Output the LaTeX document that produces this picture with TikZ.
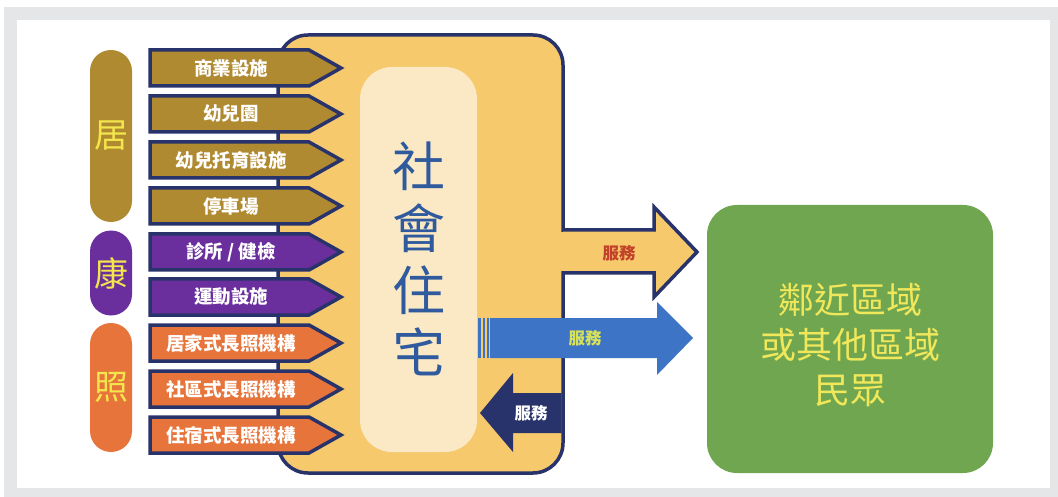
\documentclass[tikz,border=0pt]{standalone}
\usepackage{fontspec}
\setmainfont{Noto Sans CJK TC}
\usetikzlibrary{calc}
\definecolor{framegrey}{HTML}{E5E6E8}
\definecolor{boxyellow}{HTML}{F6C96C}
\definecolor{navy}{HTML}{28336B}
\definecolor{cream}{HTML}{FBE8C4}
\definecolor{titleblue}{HTML}{2F5B9E}
\definecolor{juBrown}{HTML}{B08A30}
\definecolor{kangPurple}{HTML}{6A2F9C}
\definecolor{zhaoOrange}{HTML}{E6743B}
\definecolor{pillText}{HTML}{F3E54C}
\definecolor{greenBox}{HTML}{6FA64F}
\definecolor{greenText}{HTML}{F0E75A}
\definecolor{arrowBlue}{HTML}{3D74C5}
\definecolor{labelRed}{HTML}{C2412A}
\definecolor{labelLime}{HTML}{D6E15A}
\tikzset{
  tabshape/.style={draw=navy, line width=3.5pt, line join=miter},
  tabtext/.style={text=white, font=\fontsize{18.5}{18.5}\selectfont\bfseries, inner sep=0pt},
  pilltext/.style={text=pillText, font=\fontsize{34}{34}\selectfont, inner sep=0pt},
  svclabel/.style={font=\fontsize{16.5}{16.5}\selectfont\bfseries, inner sep=0pt},
}
\begin{document}
\begin{tikzpicture}[x=1pt, y=-1pt]
\useasboundingbox (0,0) rectangle (1058,497);
% frame
\fill[white] (0,0) rectangle (1058,497);
\fill[framegrey] (4,7) rectangle (1058,497);
\fill[white] (17,20) rectangle (1050,488);
% main yellow box
\node[draw=navy, line width=3.5pt, fill=boxyellow, rounded corners=30pt,
      minimum width=285pt, minimum height=438pt, inner sep=0pt] (house) at (420.5,254) {};
% orange service arrow (part of box outline)
\draw[draw=navy, line width=3.5pt, fill=boxyellow, line join=miter]
  (563,230) -- (654,230) -- (654,207) -- (697,252) -- (654,297) -- (654,273) -- (563,273);
\fill[boxyellow] (559,231.8) rectangle (566,271.2);
\node[svclabel, text=labelRed] (svcA) at (619,253) {服務};
% inner cream panel
\node[fill=cream, rounded corners=32pt, minimum width=117pt, minimum height=385pt, inner sep=0pt]
  (panel) at (418.5,259.5) {};
\node[text=titleblue, font=\fontsize{53}{62}\selectfont, align=center, inner sep=0pt]
  (title) at (419,259) {社\\會\\住\\宅};
% blue arrow
\fill[arrowBlue] (478,318) rectangle (481,358);
\fill[arrowBlue] (483,318) rectangle (485,358);
\fill[arrowBlue] (487,318) rectangle (489,358);
\fill[arrowBlue] (490,318) -- (657,318) -- (657,302) -- (693,338) -- (657,375) -- (657,358) -- (490,358) -- cycle;
\node[svclabel, text=labelLime] (svcB) at (585,338) {服務};
% navy arrow pointing left
\fill[navy] (561.5,393) -- (513,393) -- (513,373) -- (480,413) -- (513,452) -- (513,433) -- (561.5,433) -- cycle;
\node[svclabel, text=white] (svcC) at (531,413) {服務};
% tabs
\foreach \c/\col/\txt [count=\i] in {
  68/juBrown/{商業設施}, 114/juBrown/{幼兒園}, 160/juBrown/{幼兒托育設施}, 206/juBrown/{停車場},
  252/kangPurple/{診所 / 健檢}, 297/kangPurple/{運動設施},
  343/zhaoOrange/{居家式長照機構}, 389/zhaoOrange/{社區式長照機構}, 435/zhaoOrange/{住宿式長照機構}} {
  \draw[tabshape, fill=\col] (150,\c-18) -- (309,\c-18) -- (341,\c) -- (309,\c+18) -- (150,\c+18) -- cycle;
  \node[tabtext] (tab\i) at (231,\c) {\txt};
}
% pills
\node[fill=juBrown, rounded corners=21pt, minimum width=42pt, minimum height=172pt, inner sep=0pt] (ju) at (111,136) {};
\node[pilltext] (juT) at (111,136) {居};
\node[fill=kangPurple, rounded corners=21pt, minimum width=42pt, minimum height=85pt, inner sep=0pt] (kang) at (111,273) {};
\node[pilltext] (kangT) at (111,273) {康};
\node[fill=zhaoOrange, rounded corners=21pt, minimum width=42pt, minimum height=129pt, inner sep=0pt] (zhao) at (111,387.5) {};
\node[pilltext] (zhaoT) at (111,387.5) {照};
% green box
\node[fill=greenBox, rounded corners=30pt, minimum width=286pt, minimum height=268pt, inner sep=0pt] (people) at (850,339) {};
\node[text=greenText, font=\fontsize{36}{45}\selectfont, align=center, inner sep=0pt] (peopleT) at (850,345) {鄰近區域\\或其他區域\\民眾};
\end{tikzpicture}
\end{document}
